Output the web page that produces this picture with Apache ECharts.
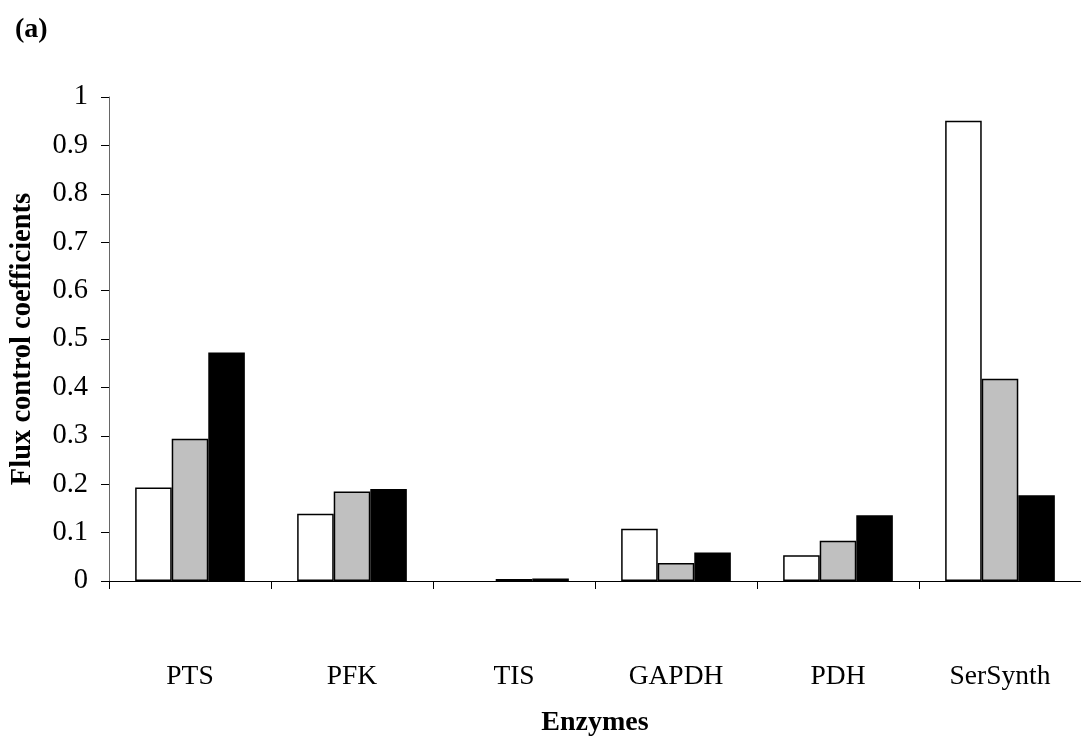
<!DOCTYPE html>
<html>
<head>
<meta charset="utf-8">
<script src="https://cdn.jsdelivr.net/npm/echarts@6/dist/echarts.min.js"></script>
<style>
html,body{margin:0;padding:0;background:#fff;}
#chart{width:1081px;height:742px;}
</style>
</head>
<body>
<div id="chart"></div>
<script>
const categories = ['PTS', 'PFK', 'TIS', 'GAPDH', 'PDH', 'SerSynth'];
const seriesWhite = [0.193, 0.139, 0, 0.108, 0.053, 0.951];
const seriesGray  = [0.294, 0.185, 0.004, 0.037, 0.083, 0.418];
const seriesBlack = [0.472, 0.190, 0.005, 0.059, 0.136, 0.177];
const yTicks = { min: 0, max: 1, interval: 0.1 };

const FONT = "'Liberation Serif', 'Times New Roman', serif";
const chart = echarts.init(document.getElementById('chart'), null, {renderer: 'canvas'});

// zero-height bars are not drawn at all (no outline), as in the reference
function toItems(data) {
  return data.map(v => v === 0 ? { value: v, itemStyle: { borderWidth: 0, opacity: 0 } } : v);
}

function barSeries(name, data, color) {
  return {
    name: name,
    type: 'bar',
    data: toItems(data),
    barGap: '0%',
    barCategoryGap: '32.3%',
    itemStyle: { color: color, borderColor: '#000', borderWidth: 1.5 },
    emphasis: { disabled: true },
    animation: false
  };
}

chart.setOption({
  backgroundColor: '#fff',
  animation: false,
  title: {
    text: '(a)',
    left: 15,
    top: 16,
    padding: 0,
    textStyle: { fontFamily: FONT, fontSize: 28, fontWeight: 'bold', color: '#000' }
  },
  grid: { left: 105, top: 97, width: 984, height: 488, containLabel: false },
  xAxis: {
    type: 'category',
    data: categories,
    name: 'Enzymes',
    nameLocation: 'middle',
    nameGap: 128,
    nameTextStyle: { fontFamily: FONT, fontSize: 28, fontWeight: 'bold', color: '#000' },
    axisLine: { show: true, lineStyle: { color: '#000', width: 1 } },
    axisTick: { show: true, inside: false, length: 8, lineStyle: { color: '#000' } },
    axisLabel: { margin: 82, fontFamily: FONT, fontSize: 27.5, color: '#000', interval: 0 },
    splitLine: { show: false }
  },
  yAxis: {
    type: 'value',
    min: yTicks.min,
    max: yTicks.max,
    interval: yTicks.interval,
    name: 'Flux control coefficients',
    nameLocation: 'middle',
    nameGap: 72,
    nameRotate: 90,
    nameTextStyle: { fontFamily: FONT, fontSize: 28.5, fontWeight: 'bold', color: '#000' },
    axisLine: { show: true, lineStyle: { color: '#666', width: 1 } },
    axisTick: { show: true, inside: false, length: 8, lineStyle: { color: '#000' } },
    axisLabel: { margin: 21, fontFamily: FONT, fontSize: 28.5, color: '#000' },
    splitLine: { show: false }
  },
  series: [
    barSeries('A', seriesWhite, '#ffffff'),
    barSeries('B', seriesGray, '#c0c0c0'),
    barSeries('C', seriesBlack, '#000000')
  ]
});
</script>
</body>
</html>
